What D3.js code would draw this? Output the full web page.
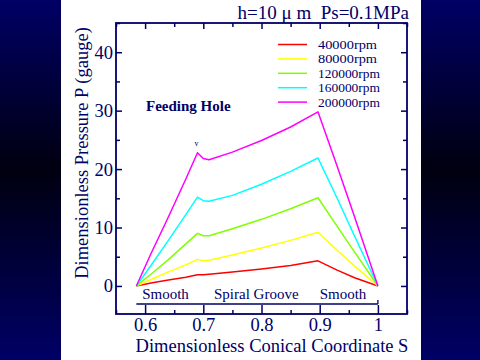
<!DOCTYPE html>
<html><head><meta charset="utf-8">
<script src="https://cdn.jsdelivr.net/npm/d3@7"></script>
<style>html,body{margin:0;padding:0;background:#000;}svg{display:block;}</style>
</head><body>
<svg id="c" width="480" height="360"></svg>
<script>
const S = [0.585, 0.61, 0.64, 0.67, 0.69, 0.70, 0.71, 0.75, 0.80, 0.85, 0.897, 0.93, 0.96, 1.0];
const p40000  = [0, 0.5, 1.0, 1.5, 1.9, 1.9, 2.0, 2.4, 2.9, 3.5, 4.3, 2.7, 1.4, 0];
const p80000  = [0, 1.1, 2.4, 3.6, 4.55, 4.3, 4.4, 5.3, 6.5, 7.8, 9.2, 6.1, 3.4, 0];
const p120000 = [0, 2.0, 4.5, 7.2, 9.0, 8.6, 8.6, 9.8, 11.4, 13.2, 15.1, 10.2, 5.8, 0];
const p160000 = [0, 3.5, 7.8, 12.2, 15.2, 14.6, 14.5, 15.5, 17.4, 19.6, 21.9, 15.0, 8.5, 0];
const p200000 = [0, 5.5, 11.8, 18.3, 22.8, 21.8, 21.6, 22.9, 24.9, 27.2, 29.8, 20.5, 11.8, 0];
const seriesNames = ["40000rpm", "80000rpm", "120000rpm", "160000rpm", "200000rpm"];
const seriesColors = ["#ff0000", "#ffff00", "#80ff00", "#00ffff", "#ff00ff"];
const seriesValues = [p40000, p80000, p120000, p160000, p200000];
const xTicks = [0.6, 0.7, 0.8, 0.9, 1];
const xTickLabels = ["0.6", "0.7", "0.8", "0.9", "1"];
const yTicks = [0, 10, 20, 30, 40];
const regionLabels = ["Smooth", "Spiral Groove", "Smooth"];
const regionCenters = [0.635, 0.791, 0.94];

const ink = "#000066";
const svg = d3.select("#c");
const defs = svg.append("defs");
const g = defs.append("linearGradient").attr("id","bg").attr("x1",0).attr("y1",0).attr("x2",0).attr("y2",1);
g.append("stop").attr("offset","0%").attr("stop-color","#000066");
g.append("stop").attr("offset","47%").attr("stop-color","#000010");
g.append("stop").attr("offset","100%").attr("stop-color","#000066");
svg.append("rect").attr("width",480).attr("height",360).attr("fill","url(#bg)");
svg.append("rect").attr("x",61).attr("y",0).attr("width",360).attr("height",360).attr("fill","#fff");

const L = 116, R = 407, T = 23, B = 314;
const x = d3.scaleLinear().domain([0.55, 1.05]).range([L, R]);
const y = d3.scaleLinear().domain([-4.8, 45]).range([B, T]);

const font = "'Liberation Serif', 'Times New Roman', serif";

// axes
const xMinor = d3.range(0.55, 1.051, 0.05).map(v => +v.toFixed(2)).filter(v => !xTicks.includes(v));
const yMinor = [5,15,25,35,45];
const axB = svg.append("g").attr("transform",`translate(0,${B})`)
  .call(d3.axisBottom(x).tickValues(xTicks).tickFormat((d,i)=>xTickLabels[i]).tickSizeInner(-9).tickSizeOuter(0).tickPadding(20));
axB.append("g").call(d3.axisBottom(x).tickValues(xMinor).tickFormat("").tickSizeInner(-4).tickSizeOuter(0));
const axT = svg.append("g").attr("transform",`translate(0,${T})`)
  .call(d3.axisTop(x).tickValues(xTicks).tickFormat("").tickSizeInner(-6).tickSizeOuter(0));
axT.append("g").call(d3.axisTop(x).tickValues(xMinor).tickFormat("").tickSizeInner(-4).tickSizeOuter(0));
const axL = svg.append("g").attr("transform",`translate(${L},0)`)
  .call(d3.axisLeft(y).tickValues(yTicks).tickFormat(d3.format("d")).tickSizeInner(-6).tickSizeOuter(0).tickPadding(3));
axL.append("g").call(d3.axisLeft(y).tickValues(yMinor).tickFormat("").tickSizeInner(-4).tickSizeOuter(0));
const axR = svg.append("g").attr("transform",`translate(${R},0)`)
  .call(d3.axisRight(y).tickValues(yTicks).tickFormat("").tickSizeInner(-6).tickSizeOuter(0));
axR.append("g").call(d3.axisRight(y).tickValues(yMinor).tickFormat("").tickSizeInner(-4).tickSizeOuter(0));
svg.selectAll(".domain").remove();
svg.selectAll(".tick line").attr("stroke", ink).attr("stroke-width",1.5);
svg.selectAll(".tick text").attr("fill", ink).attr("font-family", font).attr("font-size", 18.5);
axB.selectAll(".tick text").attr("dy","0").attr("y", 17);
svg.append("rect").attr("x",L).attr("y",T).attr("width",R-L).attr("height",B-T)
  .attr("fill","none").attr("stroke",ink).attr("stroke-width",1.8);

// curves
const line = d3.line().x((d,i)=>x(S[i])).y(d=>y(d));
seriesValues.forEach((vals,k)=>{
  svg.append("path").datum(vals).attr("d", line).attr("fill","none")
    .attr("stroke", seriesColors[k]).attr("stroke-width",1.5).attr("stroke-linejoin","round");
});

// region bracket
svg.append("line").attr("x1",x(0.585)).attr("x2",x(1)).attr("y1",304).attr("y2",304)
  .attr("stroke",ink).attr("stroke-width",1.3);
svg.append("line").attr("x1",x(1)).attr("x2",x(1)).attr("y1",300).attr("y2",304)
  .attr("stroke",ink).attr("stroke-width",1.3);
regionLabels.forEach((t,i)=>{
  svg.append("text").attr("x",x(regionCenters[i])).attr("y",299).attr("text-anchor","middle")
    .attr("font-family",font).attr("font-size",15).attr("fill",ink).text(t);
});

// legend
seriesNames.forEach((n,k)=>{
  const yy = 44.5 + k*14.4;
  svg.append("line").attr("x1",278).attr("x2",307).attr("y1",yy).attr("y2",yy)
    .attr("stroke",seriesColors[k]).attr("stroke-width",1.5);
  svg.append("text").attr("x",318).attr("y",yy+4.5).attr("font-family",font).attr("font-size",12.5)
    .attr("textLength", n.length === 8 ? 59 : 62).attr("lengthAdjust","spacingAndGlyphs")
    .attr("fill",ink).text(n);
});

// annotations
svg.append("text").attr("x",146).attr("y",111).attr("font-family",font).attr("font-size",15)
  .attr("font-weight","bold").attr("fill",ink).text("Feeding Hole");
svg.append("text").attr("x",x(0.6885)).attr("y",146).attr("text-anchor","middle").attr("font-family",font)
  .attr("font-size",8).attr("fill",ink).text("v");
svg.append("text").attr("x",409).attr("y",19).attr("text-anchor","end").attr("font-family",font)
  .attr("font-size",19).attr("fill",ink).style("white-space","pre").text("h=10 μ m  Ps=0.1MPa");
svg.append("text").attr("x",272).attr("y",352).attr("text-anchor","middle").attr("font-family",font)
  .attr("font-size",18.5).attr("fill",ink).text("Dimensionless Conical Coordinate S");
svg.append("text").attr("transform","translate(88,153) rotate(-90)").attr("text-anchor","middle").attr("font-family",font)
  .attr("font-size",18.5).attr("fill",ink).text("Dimensionless Pressure P (gauge)");
</script>
</body></html>
